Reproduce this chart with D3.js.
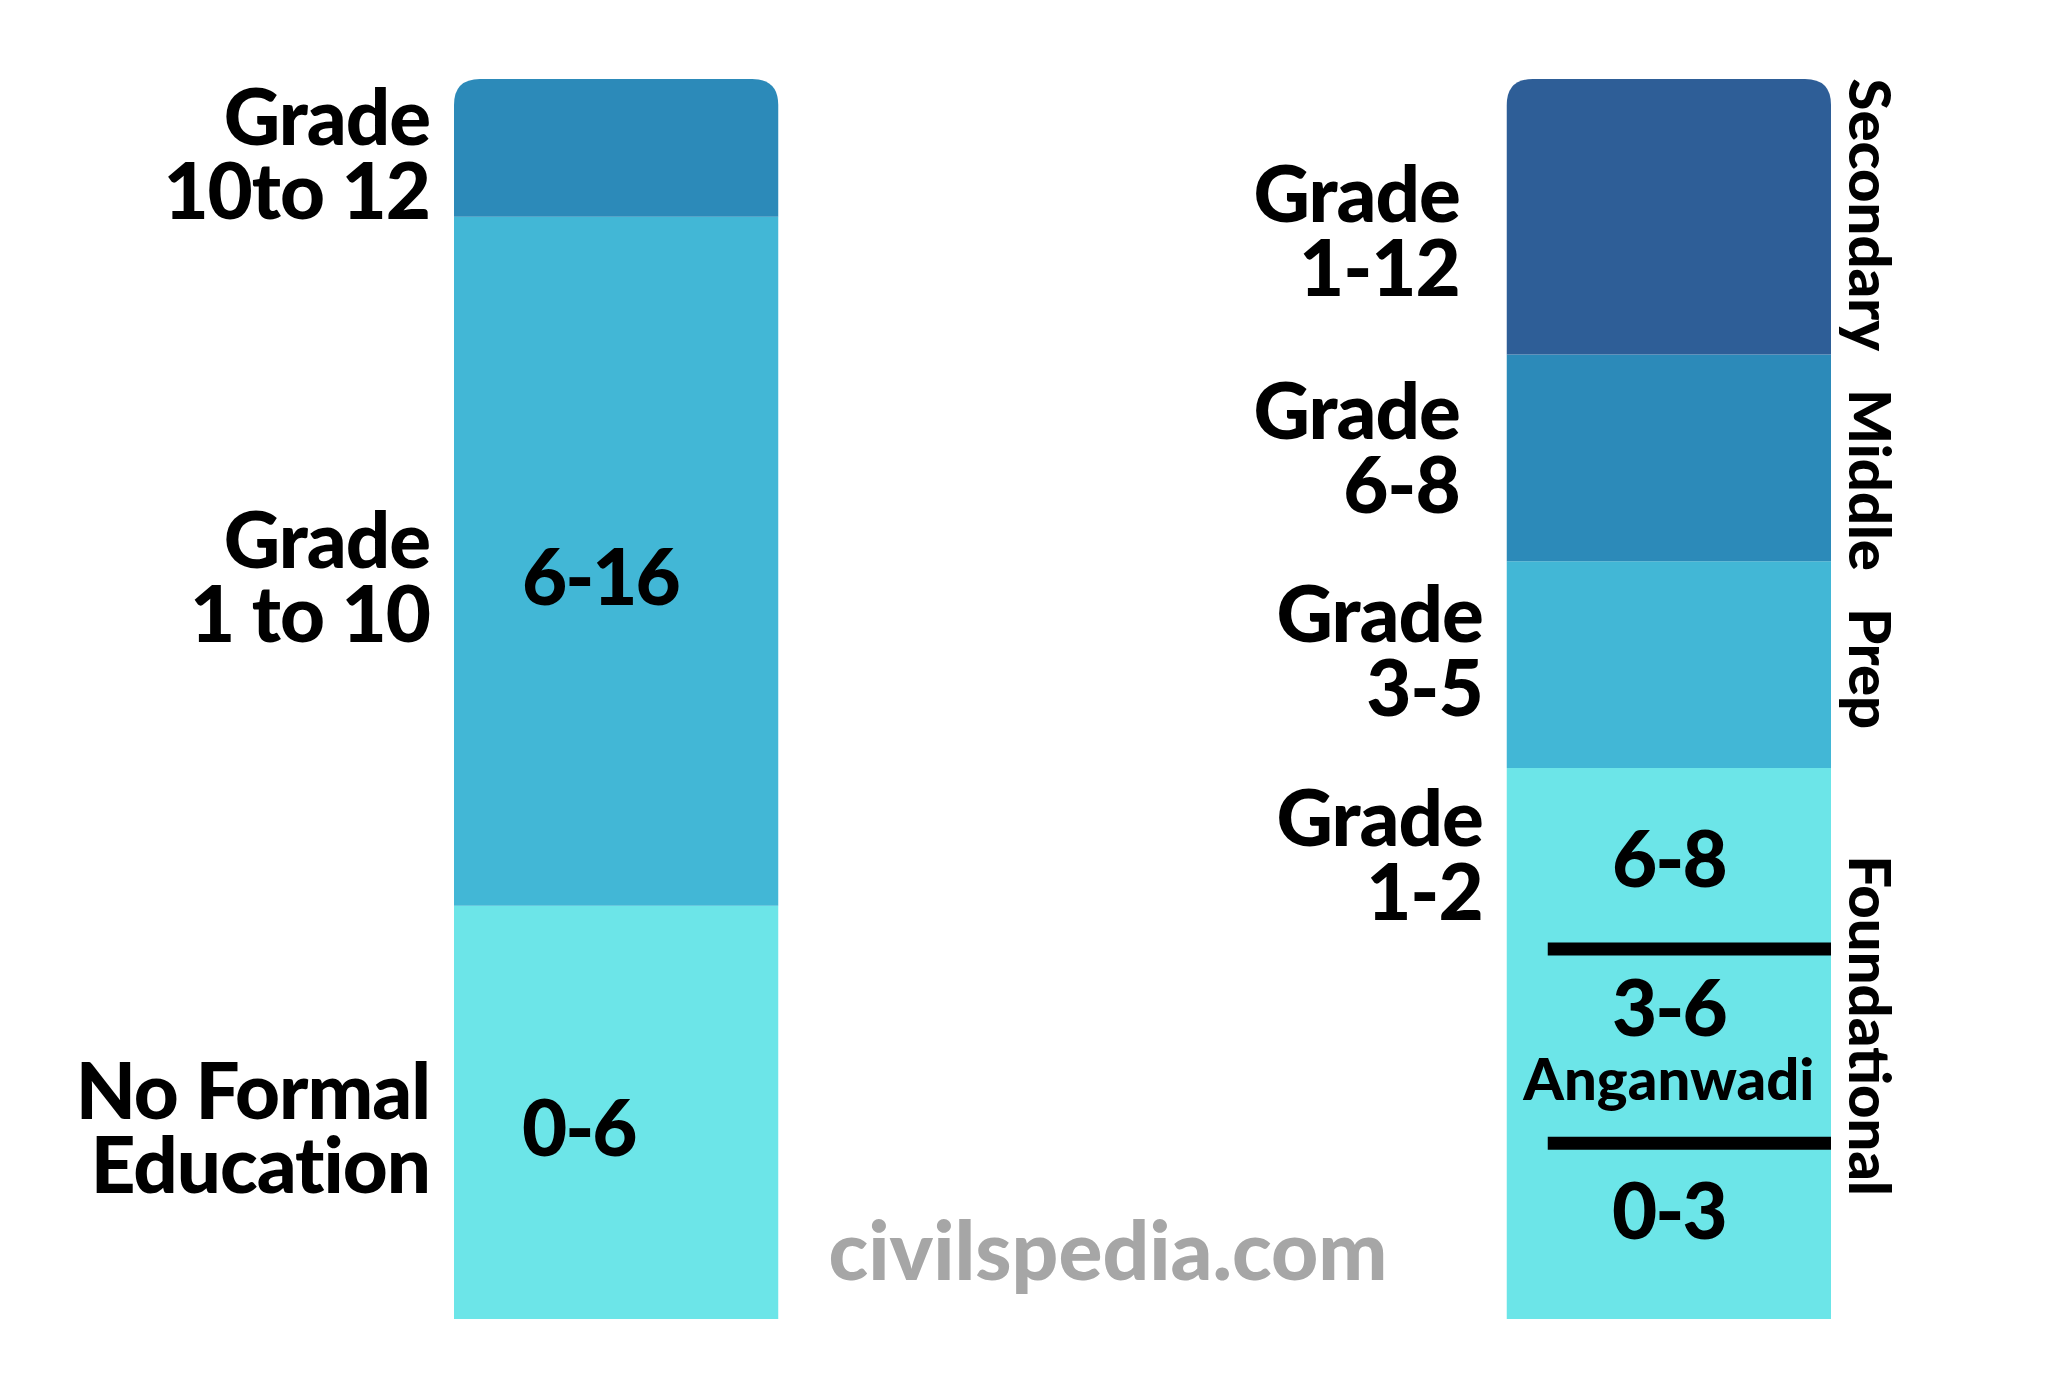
<!DOCTYPE html>
<html>
<head>
<meta charset="utf-8">
<script src="https://cdn.jsdelivr.net/npm/d3@7"></script>
<style>
  html, body { margin: 0; padding: 0; background: #ffffff; }
  svg { display: block; }
  text { font-family: "Lato", "Open Sans", sans-serif; font-weight: 900; fill: #000; }
</style>
</head>
<body>
<svg id="chart" width="2048" height="1385"></svg>
<script>
// ---- data (ages in years) ----
const systems = ["Current", "NEP"];

const currentBounds = [0, 6, 16, 18];
const currentLabels = ["No Formal\nEducation", "Grade\n1 to 10", "Grade\n10to 12"];
const currentInner = ["0-6", "6-16", ""];
const currentColors = ["#6ce5e8", "#42b7d6", "#2c8ab9"];

const nepBounds = [0, 8, 11, 14, 18];
const nepStages = ["Foundational", "Prep", "Middle", "Secondary"];
const nepLabels = ["Grade\n1-2", "Grade\n3-5", "Grade\n6-8", "Grade\n1-12"];
const nepColors = ["#6ce5e8", "#42b7d6", "#2c8ab9", "#2e5e97"];

const foundationDividers = [2.55, 5.37];
const foundationInner = ["0-3", "3-6\nAnganwadi", "6-8"];

const watermark = "civilspedia.com";

// ---- scales ----
const svg = d3.select("#chart");
const y = d3.scaleLinear().domain([0, 18]).range([1319, 79]);
const x = d3.scaleBand().domain(systems).range([454, 1831]).paddingInner(0.692).paddingOuter(0);
const bw = x.bandwidth();
const R = 26;

function segPath(x0, w, yTop, yBot, rounded) {
  if (!rounded) return `M${x0},${yBot}V${yTop}H${x0 + w}V${yBot}Z`;
  return `M${x0},${yBot}V${yTop + R}Q${x0},${yTop} ${x0 + R},${yTop}H${x0 + w - R}Q${x0 + w},${yTop} ${x0 + w},${yTop + R}V${yBot}Z`;
}

function multiText(g, str, xPos, yCenter, size, lh, anchor, ls) {
  const lines = str.split("\n");
  const capH = size * 0.72;
  const blockH = capH + (lines.length - 1) * lh;
  const firstBase = yCenter - blockH / 2 + capH;
  lines.forEach((l, i) => {
    g.append("text").attr("text-anchor", anchor).attr("font-size", size)
      .attr("letter-spacing", ls || 0)
      .attr("x", xPos).attr("y", firstBase + i * lh).text(l);
  });
}

// ---- current system bar ----
const gL = svg.append("g");
const xL = x("Current");
const curSegs = currentLabels.map((lab, i) => ({ lo: currentBounds[i], hi: currentBounds[i + 1], lab, inner: currentInner[i], color: currentColors[i] }));
gL.selectAll("path.seg").data(curSegs).join("path")
  .attr("class", "seg")
  .attr("d", (d, i) => segPath(xL, bw, y(d.hi), y(d.lo), i === curSegs.length - 1))
  .attr("fill", d => d.color);

curSegs.forEach((d, i) => {
  const cy = (y(d.lo) + y(d.hi)) / 2 + (i === 2 ? 6 : 16);
  multiText(gL, d.lab, xL - 24, cy, 78, 74, "end", -1);
  if (d.inner) multiText(gL, d.inner, xL + 68, cy, 78, 74, "start", -2);
});

// ---- NEP bar ----
const gR = svg.append("g");
const xR = x("NEP");
const nepSegs = nepStages.map((s, i) => ({ lo: nepBounds[i], hi: nepBounds[i + 1], stage: s, lab: nepLabels[i], color: nepColors[i] }));
gR.selectAll("path.seg").data(nepSegs).join("path")
  .attr("class", "seg")
  .attr("d", (d, i) => segPath(xR, bw, y(d.hi), y(d.lo), i === nepSegs.length - 1))
  .attr("fill", d => d.color);

// dividers inside foundational
gR.selectAll("line.div").data(foundationDividers).join("line")
  .attr("class", "div")
  .attr("x1", xR + 41).attr("x2", xR + bw)
  .attr("y1", d => y(d)).attr("y2", d => y(d))
  .attr("stroke", "#000").attr("stroke-width", 13);

// foundational sub-labels
const subBounds = [0, ...foundationDividers, 8];
foundationInner.forEach((s, i) => {
  const cy = (y(subBounds[i]) + y(subBounds[i + 1])) / 2;
  const lines = s.split("\n");
  if (lines.length === 1) {
    multiText(gR, s, xR + bw / 2, cy + (i === 0 ? -20 : 0), 78, 74, "middle", -2);
  } else {
    gR.append("text").attr("text-anchor", "middle").attr("font-size", 78).attr("letter-spacing", -2)
      .attr("x", xR + bw / 2).attr("y", cy - 10).text(lines[0]);
    gR.append("text").attr("text-anchor", "middle").attr("font-size", 58)
      .attr("x", xR + bw / 2).attr("y", cy + 54).text(lines[1]);
  }
});

// left grade labels
nepSegs.forEach((d, i) => {
  let cy;
  if (i === 0) cy = (y(subBounds[2]) + y(subBounds[3])) / 2 - 4;
  else cy = (y(d.lo) + y(d.hi)) / 2 + (i === 3 ? 14 : (i === 2 ? -10 : -14));
  const xr = i >= 2 ? xR - 47 : xR - 24;
  multiText(gR, d.lab, xr, cy, 78, 74, "end", -1);
});

// rotated stage names
const stageShift = [-18, 4, 22, -2];
gR.selectAll("text.stage").data(nepSegs).join("text")
  .attr("class", "stage")
  .attr("text-anchor", "middle")
  .attr("font-size", 58)
  .attr("transform", (d, i) => `translate(${xR + bw + 18},${(y(d.lo) + y(d.hi)) / 2 + stageShift[i]}) rotate(90)`)
  .text(d => d.stage);

// watermark
svg.append("text")
  .attr("x", 1108).attr("y", 1280)
  .attr("text-anchor", "middle")
  .attr("font-size", 82)
  .style("fill", "#a6a6a6")
  .text(watermark);
</script>
</body>
</html>
